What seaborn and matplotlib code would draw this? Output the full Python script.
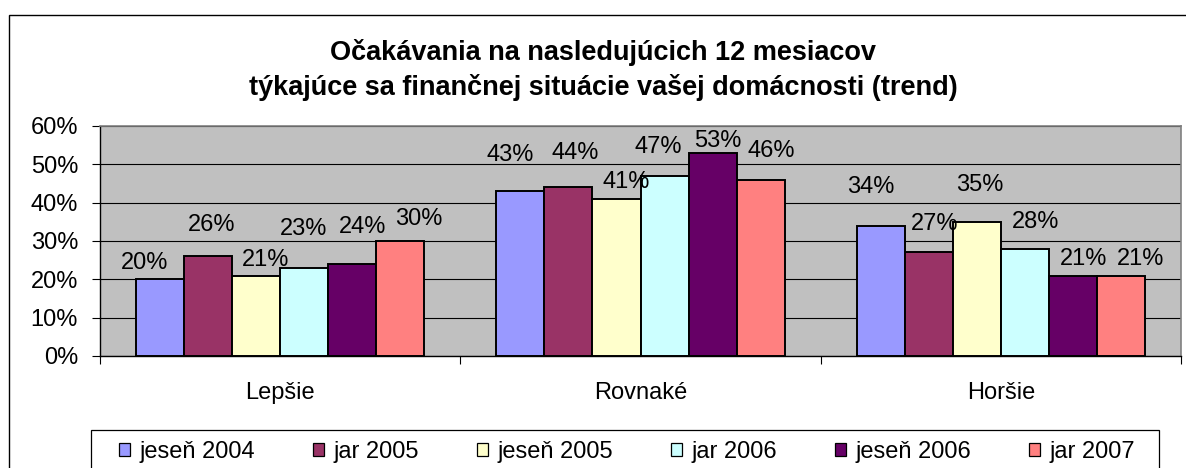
import matplotlib
matplotlib.use("Agg")
import matplotlib.pyplot as plt
from matplotlib.patches import Rectangle, Patch
from matplotlib.ticker import PercentFormatter, FixedLocator
import seaborn as sns
import pandas as pd

# ---- data ----
categories = ["Lepšie", "Rovnaké", "Horšie"]
series = ["jeseň 2004", "jar 2005", "jeseň 2005", "jar 2006", "jeseň 2006", "jar 2007"]
values = {
    "jeseň 2004": [20, 43, 34],
    "jar 2005":   [26, 44, 27],
    "jeseň 2005": [21, 41, 35],
    "jar 2006":   [23, 47, 28],
    "jeseň 2006": [24, 53, 21],
    "jar 2007":   [30, 46, 21],
}
title_lines = ["Očakávania na nasledujúcich 12 mesiacov",
               "týkajúce sa finančnej situácie vašej domácnosti (trend)"]

# ---- style ----
colors = ["#9999FF", "#993366", "#FFFFCC", "#CCFFFF", "#660066", "#FF8080"]
# label offsets (pixels) from bar-top centre to label centre, per category then series
label_dx = [[-15, 4, 9, -1, 10, 18],
            [-10, 7, 10, -6, 5, 11],
            [-10, 6, 3, 11, 11, 20]]
label_dy = [[19, 34, 18, 41, 39, 24],
            [39, 37, 19, 31, 14, 31],
            [41, 31, 39, 29, 19, 19]]

W, H = 1186, 468
DPI = 100
FS = 17

plt.rcParams["font.family"] = ["Liberation Sans", "DejaVu Sans"]

rows = []
for s in series:
    for c, v in zip(categories, values[s]):
        rows.append({"cat": c, "series": s, "val": v})
df = pd.DataFrame(rows)

fig = plt.figure(figsize=(W / DPI, H / DPI), dpi=DPI)
ax = fig.add_axes([100 / W, 1 - 356 / H, (1181 - 100) / W, (356 - 126) / H])
ax.set_facecolor("#C0C0C0")

sns.barplot(data=df, x="cat", y="val", hue="series", order=categories,
            hue_order=series, palette=colors, width=0.8, edgecolor="black",
            linewidth=1.4, saturation=1, legend=False, ax=ax, zorder=3)

ax.set_xlim(-0.5, 2.5)
ax.set_ylim(0, 60)
ax.set_yticks(range(0, 61, 10))
ax.yaxis.set_major_formatter(PercentFormatter(100, decimals=0))
ax.yaxis.grid(True, color="black", linewidth=0.8)
ax.set_axisbelow(True)
ax.set_xlabel("")
ax.set_ylabel("")

ax.tick_params(axis="y", direction="out", length=5.8, width=0.8, color="black",
               labelsize=FS, pad=10)
ax.tick_params(axis="x", which="major", length=0, labelsize=FS, pad=19)
ax.xaxis.set_minor_locator(FixedLocator([-0.5, 0.5, 1.5, 2.5]))
ax.tick_params(axis="x", which="minor", direction="out", length=5.8, width=0.8,
               color="black")

for side in ["top", "right"]:
    ax.spines[side].set_color("#808080")
    ax.spines[side].set_linewidth(1.2)
for side in ["left", "bottom"]:
    ax.spines[side].set_color("black")
    ax.spines[side].set_linewidth(1.0)

# value labels
for si, cont in enumerate(ax.containers):
    for ci, bar in enumerate(cont):
        xc = bar.get_x() + bar.get_width() / 2
        yt = bar.get_height()
        ax.annotate(f"{values[series[si]][ci]}%", (xc, yt),
                    xytext=(label_dx[ci][si], label_dy[ci][si] - 8.5),
                    textcoords="offset pixels", ha="center", va="baseline",
                    fontsize=FS, color="black", zorder=5)

# title
fig.text(603 / W, 1 - 60 / H, title_lines[0], ha="center", va="baseline",
         fontsize=19.5, fontweight="bold")
fig.text(603 / W, 1 - 95 / H, title_lines[1], ha="center", va="baseline",
         fontsize=19.5, fontweight="bold")

# legend
handles = [Patch(facecolor=c, edgecolor="black", linewidth=0.9) for c in colors]
leg = fig.legend(handles, series, ncol=6, loc="center left",
                 bbox_to_anchor=(119 / W, 1 - 452 / H), frameon=False,
                 fontsize=FS, handlelength=0.45, handleheight=0.45,
                 handletextpad=0.42, columnspacing=2.45, borderpad=0,
                 borderaxespad=0)

# legend box and chart border
fig.add_artist(Rectangle((91 / W, -0.2), (1159 - 91) / W, 0.2 + 1 - 430 / H,
                         transform=fig.transFigure, fill=False,
                         edgecolor="black", linewidth=0.9))
fig.add_artist(Rectangle((9 / W, -0.2), 1.2, 0.2 + 1 - 14.7 / H,
                         transform=fig.transFigure, fill=False,
                         edgecolor="black", linewidth=1.0))

fig.savefig("out.png", dpi=DPI)
